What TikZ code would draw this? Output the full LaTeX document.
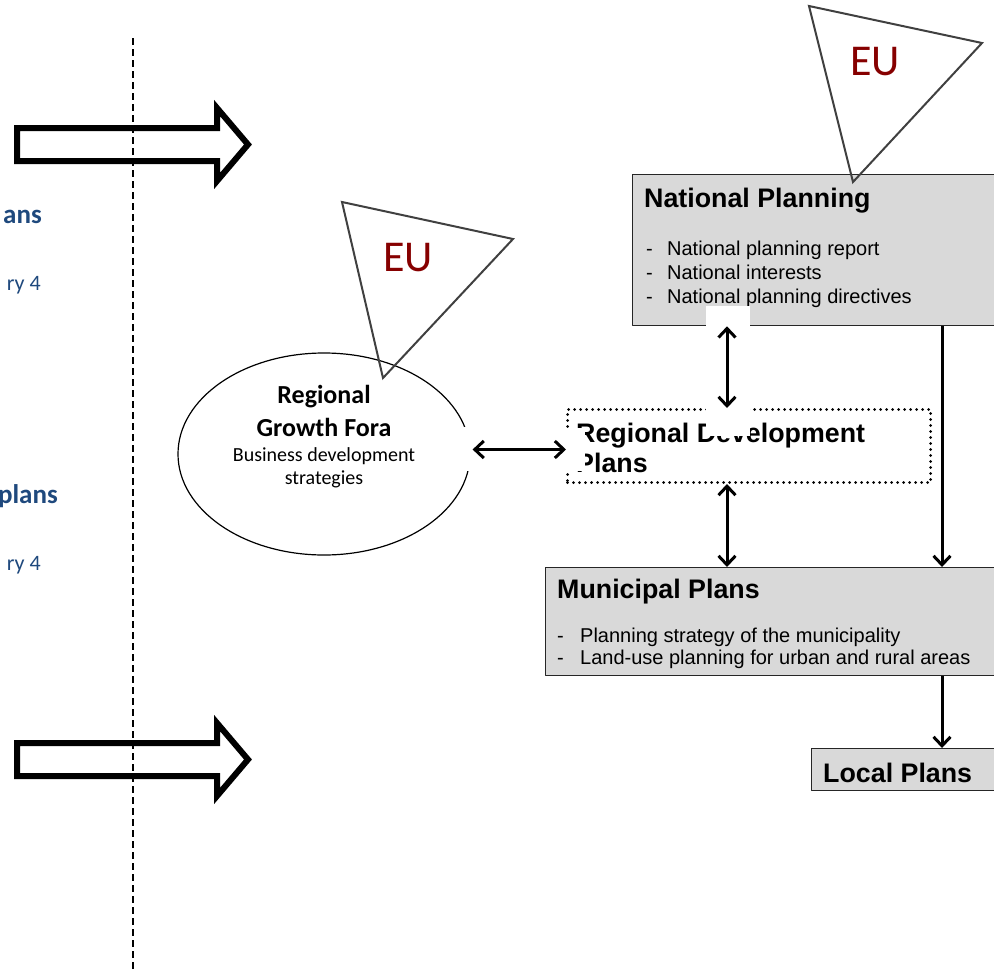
\documentclass[tikz,border=0pt]{standalone}
\usepackage{fontspec}
\setmainfont{Liberation Sans}
\newfontfamily\carlito{Carlito}
\usetikzlibrary{arrows.meta,shapes.geometric}
\definecolor{boxgray}{RGB}{217,217,217}
\definecolor{eured}{RGB}{134,0,0}
\definecolor{noteblue}{RGB}{31,73,125}
\newcommand\forabold{\carlito\fontsize{26}{30}\selectfont\bfseries}
\newcommand\forareg{\carlito\fontsize{20}{24}\selectfont}
\tikzset{
  planbox/.style={draw=black!85, line width=1.3pt, fill=boxgray, anchor=north west, inner sep=0pt},
  dotbox/.style={draw, line width=3pt, dash pattern=on 0pt off 6pt, line cap=round, anchor=north west, inner sep=0pt},
  boxtitle/.style={font=\fontsize{26.8}{30}\selectfont\bfseries, anchor=base west, inner sep=0pt},
  boxitem/.style={font=\fontsize{20}{24}\selectfont, anchor=base west, inner sep=0pt},
  foratxt/.style={anchor=base, inner sep=0pt},
  lefthead/.style={font=\carlito\fontsize{27}{30}\selectfont\bfseries, text=noteblue, anchor=base east, inner sep=0pt},
  leftnote/.style={font=\carlito\fontsize{22}{26}\selectfont, text=noteblue, anchor=base east, inner sep=0pt},
  eu/.style={font=\carlito\fontsize{44}{44}\selectfont, text=eured},
  eutri/.style={draw=black!75, line width=2pt, line join=miter},
  dbl/.style={line width=3pt, {Straight Barb[length=9pt,width=17pt]}-{Straight Barb[length=9pt,width=17pt]}},
  sgl/.style={line width=3pt, -{Straight Barb[length=9pt,width=17pt]}}
}
\begin{document}
\begin{tikzpicture}[x=1pt, y=-1pt, line join=round]
  \clip (0,0) rectangle (994,972);
  \path (727,0) coordinate (axA)
        (942,0) coordinate (axB);
  % boxes
  \node[planbox, minimum width=400pt, minimum height=151pt] (natl) at (632,174) {};
  \node[planbox, minimum width=460pt, minimum height=108pt] (muni) at (545,567) {};
  \node[planbox, minimum width=200pt, minimum height=42pt] (local) at (811,748) {};
  \node[dotbox, minimum width=363pt, minimum height=73pt] (rdp) at (566,408) {};
  \node[ellipse, draw, line width=1.2pt, minimum width=292pt, minimum height=202pt] (fora) at (324,454) {};
  % texts
  \node[boxtitle] (natlT) at (644,207) {National Planning};
  \foreach \txt [count=\i] in {National planning report, National interests, National planning directives}
    \node[boxitem] (natl\i) at (646,{231+24*\i}) {\makebox[21pt][l]{-}\txt};
  \node[boxtitle] (muniT) at (557,598) {Municipal Plans};
  \foreach \txt [count=\i] in {Planning strategy of the municipality, Land-use planning for urban and rural areas}
    \node[boxitem] (muni\i) at (557,{620+22*\i}) {\makebox[23pt][l]{-}\txt};
  \node[boxtitle] (localT) at (823,782) {Local Plans};
  \node[boxtitle] (rdpA) at (576,442) {Regional Development};
  \node[boxtitle] (rdpB) at (576,472) {Plans};
  \foreach \txt/\y/\f [count=\i] in {Regional/403/\forabold, Growth Fora/436/\forabold, Business development/461/\forareg, strategies/484/\forareg}
    \node[foratxt, font=\f] (fora\i) at (324,\y) {\txt};
  % left margin
  \node[lefthead] (headA) at (42,223) {ans};
  \node[leftnote] (noteA) at (41,290) {ry 4};
  \node[lefthead] (headB) at (58,503) {plans};
  \node[leftnote] (noteB) at (41,570) {ry 4};
  % white patches
  \fill[white] (706,306) rectangle (750,436);
  \fill[white] (555,428) rectangle (585,471);
  \fill[white] (460,427) rectangle (480,471);
  % connectors
  \path (fora.east |- rdp.west) ++(2,3.5) coordinate (foraR);
  \path (rdp.west) ++(0,3.5) coordinate (rdpL);
  \draw[dbl] (foraR) -- (rdpL);
  \draw[dbl] (natl.south -| axA) -- (rdp.north -| axA);
  \draw[dbl] (rdp.south -| axA) -- (muni.north -| axA);
  \draw[sgl] (natl.south -| axB) -- (muni.north -| axB);
  \draw[sgl] (muni.south -| axB) -- (local.north -| axB);
  % block arrows and divider
  \foreach \y in {144.5,759.5}
    \draw[line width=6pt, line join=miter] (17,{\y-16.5}) -- (217,{\y-16.5}) -- (217,{\y-36.5}) -- (248,\y)
      -- (217,{\y+36.5}) -- (217,{\y+16.5}) -- (17,{\y+16.5}) -- cycle;
  \draw[line width=2.5pt, dash pattern=on 7pt off 4pt] (133,38) -- (133,972);
  % EU triangles
  \draw[eutri] (342,202) -- (513,239) -- (383,378) -- cycle;
  \draw[eutri] (809,6) -- (982,43) -- (853,182) -- cycle;
  \node[eu] (euA) at (408,258) {EU};
  \node[eu] (euB) at (875,62) {EU};
\end{tikzpicture}
\end{document}
